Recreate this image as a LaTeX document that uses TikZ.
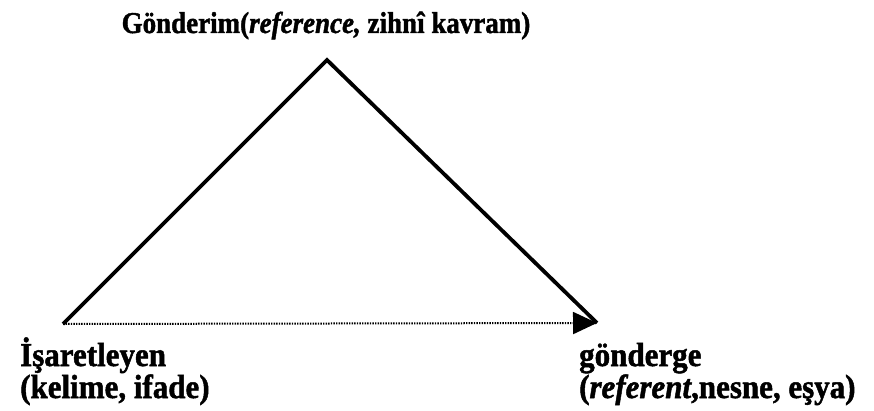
\documentclass[tikz,border=0pt]{standalone}
\usepackage{fontspec}
\setmainfont{Liberation Serif}[BoldFeatures={FakeBold=1.5},BoldItalicFeatures={FakeBold=1.5}]
\usetikzlibrary{arrows.meta}
\tikzset{
  toplbl/.style={font=\fontsize{27}{33}\selectfont\bfseries, inner sep=0pt, yscale=1.12},
  lbl/.style={font=\fontsize{31}{33}\selectfont\bfseries, inner sep=0pt, yscale=1.08},
  side/.style={line width=3.8pt, line join=miter},
  dotline/.style={line width=2pt, dash pattern=on 1.4pt off 1.2pt, -{Triangle[length=24pt,width=22pt]}}
}
\begin{document}
\begin{tikzpicture}[x=1pt,y=-1pt]
\useasboundingbox (0,0) rectangle (874,411);
\coordinate (apex) at (327,60);
\coordinate (L) at (63,324);
\coordinate (R) at (597,323);
\draw[side] (L) -- (apex) -- (R);
\draw[dotline] (L) -- (R);
\node[toplbl, anchor=base] (top) at (326,33) {Gönderim(\textit{reference,} zihnî kavram)};
\node[lbl, anchor=base west] (sig1) at (20,366) {İşaretleyen};
\node[lbl, anchor=base west] (sig2) at (20,398) {(kelime, ifade)};
\node[lbl, anchor=base west] (ref1) at (579,366) {gönderge};
\node[lbl, anchor=base west] (ref2) at (579,398) {(\textit{referent},nesne, eşya)};
\end{tikzpicture}
\end{document}
